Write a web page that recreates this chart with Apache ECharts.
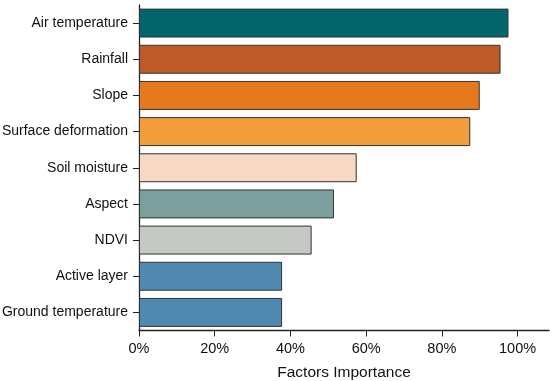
<!DOCTYPE html>
<html>
<head>
<meta charset="utf-8">
<script src="https://cdn.jsdelivr.net/npm/echarts@6/dist/echarts.min.js"></script>
<style>html,body{margin:0;padding:0;background:#fff;}#c{width:550px;height:381px;}</style>
</head>
<body>
<div id="c"></div>
<script>
const categories = ["Air temperature","Rainfall","Slope","Surface deformation","Soil moisture","Aspect","NDVI","Active layer","Ground temperature"];
const values = [97.6, 95.5, 90.0, 87.5, 57.5, 51.5, 45.6, 37.8, 37.8];
const colors = ["#03656B","#BC5A28","#E6791D","#F39E3D","#F7D8C4","#7C9F9E","#C4C9C3","#5088B0","#5088B0"];
const xTicks = [0, 20, 40, 60, 80, 100];

const chart = echarts.init(document.getElementById('c'), null, {renderer: 'canvas'});
chart.setOption({
  animation: false,
  grid: {left: 139, top: 5, width: 410, height: 325.5, containLabel: false, outerBoundsMode: 'none'},
  xAxis: {
    type: 'value', min: 0, max: 108.3,
    name: 'Factors Importance', nameLocation: 'middle', nameGap: 34,
    nameTextStyle: {fontFamily: 'Liberation Sans', fontSize: 15.5, color: '#111'},
    axisLine: {show: true, lineStyle: {color: '#222', width: 1.3}},
    axisTick: {show: true, length: 6, lineStyle: {color: '#222'}, customValues: xTicks},
    axisLabel: {customValues: xTicks, formatter: v => v + '%', fontFamily: 'Liberation Sans', fontSize: 14.5, color: '#111', margin: 11},
    splitLine: {show: false}
  },
  yAxis: {
    type: 'category', data: categories, inverse: true,
    axisLine: {show: true, lineStyle: {color: '#222', width: 1.3}},
    axisTick: {show: true, length: 6, alignWithLabel: true, lineStyle: {color: '#222'}},
    axisLabel: {fontFamily: 'Liberation Sans', fontSize: 14, color: '#111', margin: 11}
  },
  series: [{
    type: 'bar',
    data: values.map((v, i) => ({value: v, itemStyle: {color: colors[i]}})),
    barCategoryGap: '20%',
    itemStyle: {borderColor: '#333', borderWidth: 1}
  }]
});
</script>
</body>
</html>
